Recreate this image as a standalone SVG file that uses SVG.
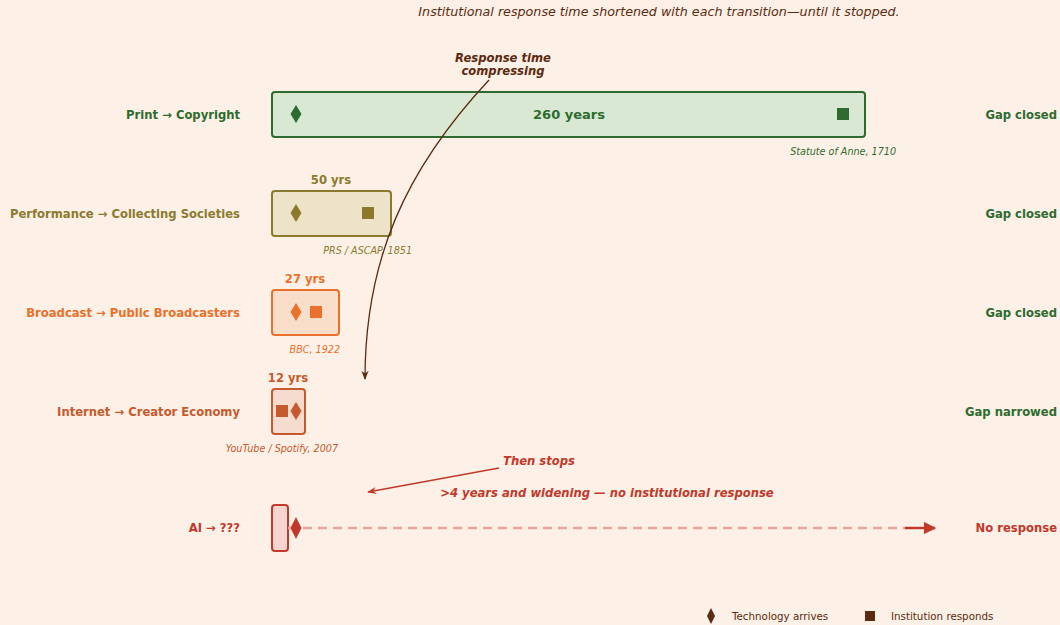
<svg xmlns="http://www.w3.org/2000/svg" width="1060" height="625" viewBox="0 0 1060 625">
<defs>
<style>
text{font-family:"DejaVu Sans","Liberation Sans",sans-serif}
.lbl{font-size:11.6px;font-weight:bold;text-anchor:end}
.gap{font-size:11.6px;font-weight:bold;text-anchor:end;fill:#2E6B30}
.yrs{font-size:11.6px;font-weight:bold;text-anchor:middle}
.note{font-size:9.6px;font-style:italic;text-anchor:end}
.ann{font-size:11.6px;font-weight:bold;font-style:italic}
.leg{font-size:10.3px;fill:#5C2A10}
</style>
<marker id="ah" viewBox="0 0 10 10" refX="9" refY="5" markerWidth="7" markerHeight="7" orient="auto-start-reverse"><path d="M0,1 L10,5 L0,9 L3,5 Z" fill="#5C2A10"/></marker>
<marker id="ahr" viewBox="0 0 10 10" refX="9" refY="5" markerWidth="7" markerHeight="7" orient="auto-start-reverse"><path d="M0,1 L10,5 L0,9 L3,5 Z" fill="#C0392B"/></marker>
<marker id="ahb" viewBox="0 0 10 10" refX="9" refY="5" markerWidth="5" markerHeight="5" orient="auto"><path d="M0,0 L10,5 L0,10 Z" fill="#C0392B"/></marker>
</defs>
<rect width="1060" height="625" fill="#FDF0E6"/>
<text x="659" y="16" font-size="12.7" font-style="italic" fill="#5C2A10" text-anchor="middle">Institutional response time shortened with each transition—until it stopped.</text>

<g id="row-print">
<text class="lbl" x="240" y="119" fill="#2E6B30">Print → Copyright</text>
<rect x="272" y="92" width="593" height="45" rx="3" fill="#D8E8D2" stroke="#2E6B30" stroke-width="2"/>
<path d="M296,105 L301.5,114 L296,123 L290.5,114 Z" fill="#2E6B30"/>
<rect x="837" y="108" width="12" height="12" fill="#2E6B30"/>
<text x="569" y="119" font-size="13" font-weight="bold" fill="#2E6B30" text-anchor="middle">260 years</text>
<text class="note" x="896" y="155" fill="#2E6B30">Statute of Anne, 1710</text>
<text class="gap" x="1057" y="119">Gap closed</text>
</g>

<g id="row-performance">
<text class="lbl" x="240" y="218" fill="#8B7A2E">Performance → Collecting Societies</text>
<rect x="272" y="191" width="119" height="45" rx="3" fill="#EDE3C9" stroke="#8B7A2E" stroke-width="2"/>
<path d="M296,204 L301.5,213 L296,222 L290.5,213 Z" fill="#8B7A2E"/>
<rect x="362" y="207" width="12" height="12" fill="#8B7A2E"/>
<text class="yrs" x="331" y="184" fill="#8B7A2E">50 yrs</text>
<text class="note" x="412" y="254" fill="#8B7A2E">PRS / ASCAP, 1851</text>
<text class="gap" x="1057" y="218">Gap closed</text>
</g>

<g id="row-broadcast">
<text class="lbl" x="240" y="317" fill="#E8712C">Broadcast → Public Broadcasters</text>
<rect x="272" y="290" width="67" height="45" rx="3" fill="#F9DECA" stroke="#E8712C" stroke-width="2"/>
<path d="M296,303 L301.5,312 L296,321 L290.5,312 Z" fill="#E8712C"/>
<rect x="310" y="306" width="12" height="12" fill="#E8712C"/>
<text class="yrs" x="305" y="283" fill="#E8712C">27 yrs</text>
<text class="note" x="340" y="353" fill="#E8712C">BBC, 1922</text>
<text class="gap" x="1057" y="317">Gap closed</text>
</g>

<g id="row-internet">
<text class="lbl" x="240" y="416" fill="#C65A2E">Internet → Creator Economy</text>
<rect x="272" y="389" width="33" height="45" rx="3" fill="#F5DCCF" stroke="#C65A2E" stroke-width="2"/>
<rect x="276" y="405" width="12" height="12" fill="#C65A2E"/>
<path d="M296,402 L301.5,411 L296,420 L290.5,411 Z" fill="#C65A2E"/>
<text class="yrs" x="288" y="382" fill="#C65A2E">12 yrs</text>
<text class="note" x="338" y="452" fill="#C65A2E">YouTube / Spotify, 2007</text>
<text class="gap" x="1057" y="416">Gap narrowed</text>
</g>

<g id="row-ai">
<text class="lbl" x="240" y="532" fill="#C0392B">AI → ???</text>
<rect x="272" y="505" width="16" height="46" rx="3" fill="#F5D5CE" stroke="#C0392B" stroke-width="2"/>
<text x="1057" y="532" font-size="11.6" font-weight="bold" fill="#C0392B" text-anchor="end">No response</text>
</g>

<g id="connectors">
<line x1="288" y1="528" x2="905" y2="528" stroke="#E8A59A" stroke-width="2.5" stroke-dasharray="9,6"/>
<line x1="905" y1="528" x2="935" y2="528" stroke="#C0392B" stroke-width="2.5" marker-end="url(#ahb)"/>
<path d="M296,517 L301.5,528 L296,539 L290.5,528 Z" fill="#C0392B"/>
<path d="M489,80 C405,170 365,260 365,379" fill="none" stroke="#5C2A10" stroke-width="1.3" marker-end="url(#ah)"/>
<line x1="499" y1="468" x2="368" y2="492" stroke="#C0392B" stroke-width="1.3" marker-end="url(#ahr)"/>
</g>

<g id="annotations">
<text class="ann" x="503" y="62" fill="#5C2A10" text-anchor="middle">Response time</text>
<text class="ann" x="503" y="75" fill="#5C2A10" text-anchor="middle">compressing</text>
<text class="ann" x="503" y="465" fill="#C0392B">Then stops</text>
<text class="ann" x="607" y="497" fill="#C0392B" text-anchor="middle">&gt;4 years and widening — no institutional response</text>
</g>

<g id="legend">
<path d="M711,608 L715,616 L711,624 L707,616 Z" fill="#5C2A10"/>
<text class="leg" x="732" y="620">Technology arrives</text>
<rect x="865" y="611" width="10" height="10" fill="#5C2A10"/>
<text class="leg" x="891" y="620">Institution responds</text>
</g>
</svg>
